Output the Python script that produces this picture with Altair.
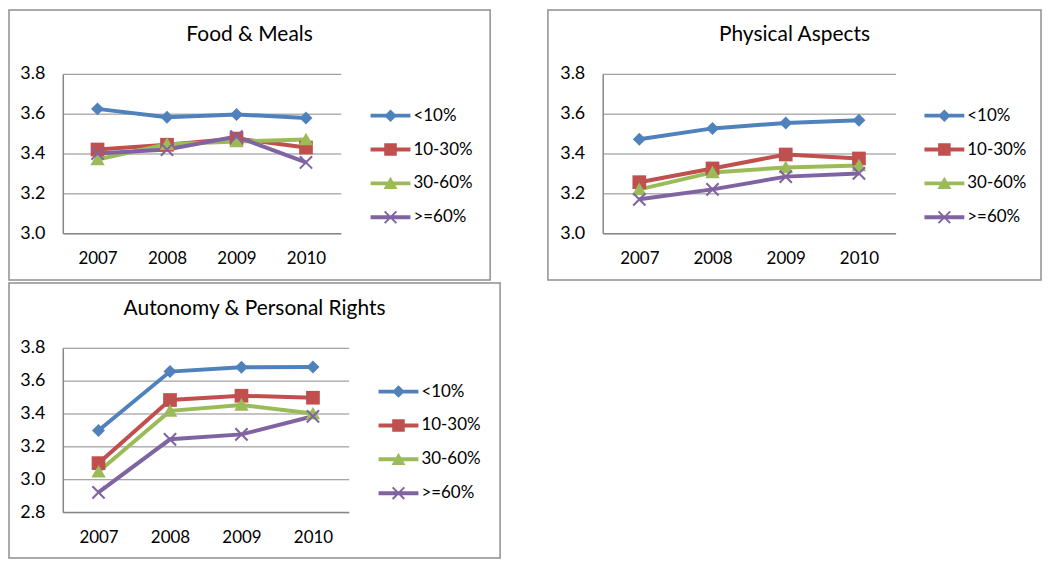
import altair as alt
import pandas as pd

years = ["2007", "2008", "2009", "2010"]
groups = ["<10%", "10-30%", "30-60%", ">=60%"]
colors = ["#4F81BD", "#C0504D", "#9BBB59", "#8064A2"]

food_lt10 = [3.624, 3.582, 3.596, 3.578]
food_10_30 = [3.420, 3.444, 3.475, 3.430]
food_30_60 = [3.370, 3.447, 3.460, 3.470]
food_ge60 = [3.400, 3.420, 3.485, 3.355]

phys_lt10 = [3.472, 3.526, 3.553, 3.567]
phys_10_30 = [3.256, 3.325, 3.395, 3.375]
phys_30_60 = [3.220, 3.305, 3.330, 3.340]
phys_ge60 = [3.170, 3.220, 3.284, 3.300]

auto_lt10 = [3.297, 3.655, 3.681, 3.683]
auto_10_30 = [3.098, 3.482, 3.508, 3.496]
auto_30_60 = [3.045, 3.416, 3.452, 3.400]
auto_ge60 = [2.920, 3.243, 3.273, 3.383]

ticks_top = [3.0, 3.2, 3.4, 3.6, 3.8]
ticks_bottom = [2.8, 3.0, 3.2, 3.4, 3.6, 3.8]

FONT = "Lato"

# marker shapes for the data points (unit paths, scaled by sqrt(size)/2)
marker_paths = [
    "M0,-0.9L0.9,0L0,0.9L-0.9,0Z",
    "M-0.95,-0.95H0.95V0.95H-0.95Z",
    "M0,-0.95L1,0.8H-1Z",
    "M-0.75,-0.95L0.95,0.75L0.75,0.95L-0.95,-0.75Z"
    "M0.75,-0.95L0.95,-0.75L-0.75,0.95L-0.95,0.75Z",
]

# legend symbols: line segment plus marker
LINE = "M-1.43,-0.14H1.43V0.14H-1.43Z"
legend_paths = [
    LINE + "M0,-0.45L0.45,0L0,0.45L-0.45,0Z",
    LINE + "M-0.45,-0.45H0.45V0.45H-0.45Z",
    LINE + "M0,-0.47L0.5,0.4H-0.5Z",
    LINE + "M-0.37,-0.47L0.47,0.37L0.37,0.47L-0.47,-0.37Z"
    "M0.37,-0.47L0.47,-0.37L-0.37,0.47L-0.47,0.37Z",
]


def make_df(series):
    rows = []
    for g, vals in zip(groups, series):
        for yr, v in zip(years, vals):
            rows.append({"year": yr, "group": g, "value": v})
    return pd.DataFrame(rows)


def panel(title, series, ydomain, yticks, w, h, border, lx, ly, rp, title_dy):
    df = make_df(series)
    base = alt.Chart(df)
    x = alt.X(
        "year:O",
        sort=years,
        title=None,
        scale=alt.Scale(type="point", padding=0.5),
        axis=alt.Axis(labelAngle=0, grid=False, ticks=False,
                      labelPadding=17, domainColor="#868686", domainWidth=1.5),
    )
    y = alt.Y(
        "value:Q",
        title=None,
        scale=alt.Scale(domain=ydomain, nice=False, zero=False),
        axis=alt.Axis(values=yticks, format=".1f", grid=True, ticks=False,
                      labelPadding=18, labelFontSize=18,
                      domainColor="#868686", domainWidth=1.5,
                      gridColor="#8a8a8a", gridWidth=1),
    )
    cscale = alt.Scale(domain=groups, range=colors)
    lines = base.mark_line(strokeWidth=4).encode(
        x=x, y=y, color=alt.Color("group:N", scale=cscale, legend=None, sort=groups)
    )
    points = base.mark_point(filled=True, size=210, opacity=1).encode(
        x=x, y=y,
        color=alt.Color("group:N", scale=cscale, legend=None, sort=groups),
        shape=alt.Shape("group:N", scale=alt.Scale(domain=groups, range=marker_paths),
                        legend=None, sort=groups),
    )
    legend = alt.Legend(
        title=None, orient="none", legendX=lx, legendY=ly, padding=0, rowPadding=rp,
        symbolSize=784, symbolStrokeWidth=0, symbolOpacity=1,
        labelFont=FONT, labelFontSize=17, labelColor="#000000", labelOffset=9,
    )
    keys = base.mark_point(filled=True, size=1, opacity=0).encode(
        x=x, y=y,
        color=alt.Color("group:N", scale=cscale, legend=legend, sort=groups),
        shape=alt.Shape("group:N", scale=alt.Scale(domain=groups, range=legend_paths),
                        legend=legend, sort=groups),
    )
    bx0, bx1, by0, by1 = border
    frame = alt.Chart(alt.Data(values=[{"b": 1}])).mark_rect(
        fill="transparent", stroke="#8f8f8f", strokeWidth=1.5
    ).encode(x=alt.value(bx0), x2=alt.value(bx1), y=alt.value(by0), y2=alt.value(by1))
    return alt.layer(frame, lines, points, keys).resolve_scale(
        color="independent", shape="independent"
    ).properties(
        width=w, height=h,
        title=alt.TitleParams(text=title, font=FONT, fontSize=21, fontWeight="normal",
                              color="#000000", anchor="middle", frame="bounds",
                              offset=0, dy=title_dy),
    )


p1 = panel("Food & Meals", [food_lt10, food_10_30, food_30_60, food_ge60],
           [3.0, 3.8], ticks_top, 279, 160, (-54, 429, -64, 207), 315, 28, 12, 36)
p2 = panel("Physical Aspects", [phys_lt10, phys_10_30, phys_30_60, phys_ge60],
           [3.0, 3.8], ticks_top, 294, 160, (-55, 440, -64, 207), 329, 28, 12, 36)
p3 = panel("Autonomy & Personal Rights", [auto_lt10, auto_10_30, auto_30_60, auto_ge60],
           [2.8, 3.8], ticks_bottom, 287, 165, (-54, 439, -65, 211), 323, 30, 12, 37)

top = alt.hconcat(p1, p2, spacing=56).resolve_scale(
    color="independent", shape="independent")
chart = alt.vconcat(top, p3, spacing=1).resolve_scale(
    color="independent", shape="independent")

chart = chart.properties(padding=0).configure_view(strokeWidth=0).configure_axis(
    labelFont=FONT, labelFontSize=17, labelColor="#000000"
)

chart.save("out.html", embed_options={"renderer": "svg", "actions": False})
